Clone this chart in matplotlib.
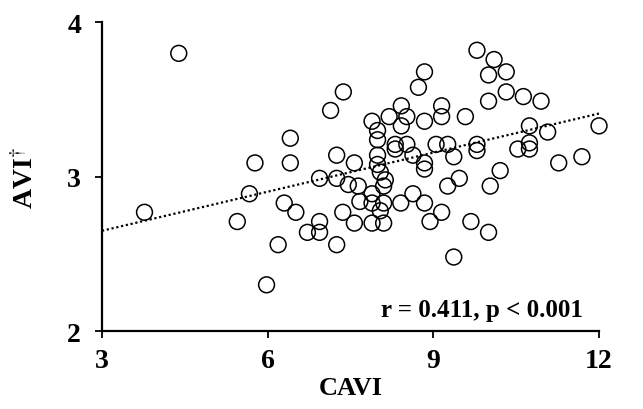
import matplotlib
matplotlib.use("Agg")
import matplotlib.pyplot as plt

plt.rcParams['font.family'] = ['Liberation Serif', 'DejaVu Serif']
plt.rcParams['mathtext.fontset'] = 'stix'

cavi = [3.77, 4.39, 5.45, 5.67, 5.77, 5.98, 6.19, 6.30, 6.41, 6.41,
        6.51, 6.72, 6.94, 6.94, 6.94, 7.14, 7.37, 7.25, 7.25, 7.25,
        7.46, 7.36, 7.57, 7.64, 7.57, 7.67, 7.89, 7.89, 7.89, 7.89,
        7.99, 7.99, 7.99, 7.99, 8.04, 8.04, 8.10, 8.10, 8.13, 8.10,
        8.20, 8.42, 8.52, 8.42, 8.84, 8.73, 8.84, 9.15, 9.15, 9.58,
        8.31, 8.31, 8.52, 8.63, 8.84, 8.84, 9.05, 9.26, 9.37, 9.79,
        9.79, 9.79, 10.10, 10.00, 10.32, 10.00, 10.32, 10.63, 10.95,
        10.74, 11.07, 10.74, 10.74, 10.53, 12.00, 11.27, 11.69, 10.21, 10.03,
        8.41, 8.63, 8.84, 9.15, 8.94, 9.68, 10.00, 9.37, 9.26, 9.47]
avi = [2.77, 3.80, 2.71, 2.89, 3.09, 2.30, 2.56, 2.83, 3.25, 3.09,
       2.77, 2.64, 2.64, 2.71, 2.99, 3.43, 3.55, 3.14, 2.56, 2.99,
       2.95, 2.77, 3.09, 2.94, 2.70, 2.84, 3.36, 2.89, 2.83, 2.70,
       3.30, 3.24, 3.14, 3.08, 3.03, 2.78, 2.83, 2.70, 2.98, 2.94,
       3.39, 3.46, 3.39, 3.33, 3.36, 3.58, 3.68, 3.46, 3.39, 3.39,
       3.21, 3.18, 3.21, 3.14, 3.09, 3.05, 3.21, 3.21, 3.13, 3.21,
       3.17, 3.82, 3.76, 3.66, 3.68, 3.49, 3.55, 3.52, 3.49,
       3.33, 3.29, 3.22, 3.18, 3.18, 3.33, 3.09, 3.13, 3.04, 2.94,
       2.83, 2.89, 2.83, 2.77, 2.71, 2.71, 2.64, 2.48, 2.94, 2.99]

trend_x = [3, 12]
trend_y = [2.65, 3.41]

x_ticks = [3, 6, 9, 12]
y_ticks = [2, 3, 4]
stat_text = "r = 0.411, p < 0.001"

fig = plt.figure(figsize=(6.43, 4.10), dpi=100)
ax = fig.add_axes([0.1586, 0.190, 0.773, 0.7527])

ax.plot(trend_x, trend_y, color='black', lw=1.6, linestyle=(0, (1, 1.2)), zorder=1)
ax.scatter(cavi, avi, s=130, facecolors='none', edgecolors='black',
           linewidths=1.1, zorder=2, clip_on=False)

ax.set_xlim(3, 12)
ax.set_ylim(2, 4)
ax.set_xticks(x_ticks)
ax.set_yticks(y_ticks)
for s in ['top', 'right']:
    ax.spines[s].set_visible(False)
for s in ['left', 'bottom']:
    ax.spines[s].set_linewidth(1.6)
ax.tick_params(direction='out', length=5, width=1.3, labelsize=20)
ax.tick_params(axis='x', pad=7)
ax.tick_params(axis='y', pad=10)
for lab in ax.get_xticklabels() + ax.get_yticklabels():
    lab.set_fontweight('bold')

ax.set_xlabel("CAVI", fontsize=19, fontweight='bold', labelpad=2)
ax.set_ylabel(r"AVI$^{\dagger}$", fontsize=20, fontweight='bold', labelpad=20)
ax.text(11.71, 2.10, stat_text, fontsize=18, fontweight='bold',
        ha='right', va='baseline')

fig.savefig("out.png", dpi=100)
